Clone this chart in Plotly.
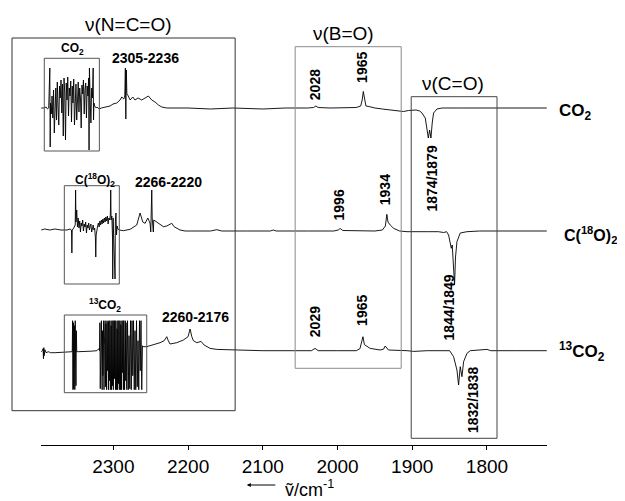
import plotly.graph_objects as go

# ---------------- data (wavenumber in cm-1, signal deviation from baseline, arb. units) ----------------
co2_pairs = [
    [2396.5, 0], [2393, 0], [2390, 1], [2388, -1], [2386.5, 0],
    [2385, 40], [2384.5, -39], [2384, 5], [2383, -6], [2382, 12], [2381, -10], [2380, 18], [2379, -25],
    [2378, 8], [2377, 20], [2376, -12], [2375, 26], [2374, 2], [2373, -17], [2372, 22], [2371, 10],
    [2370, 28], [2369, -5], [2368, 24], [2367, -28], [2366, 30], [2365, 15], [2364, -32], [2363, 25],
    [2362, 8], [2361, 31], [2360, -8], [2359, 20], [2358, 12], [2357, 27], [2356, -14], [2355, 22],
    [2354, 5], [2353, 29], [2352, -17], [2351, 18], [2350, 24], [2349, -12], [2348, 15], [2347, 26],
    [2346, -4], [2345, 20], [2344, 10], [2343, -20], [2342, 23], [2341, 14], [2340, 28], [2339, -6],
    [2338, 18], [2337, 25], [2336, -10], [2335, 22], [2334, 12], [2333, 30], [2332.5, -42], [2332, 40],
    [2331, 8], [2330, -15], [2329, 20], [2328, 10], [2327, 40], [2326.5, -12], [2326, 5], [2325, 2],
    [2323, 0], [2321.8, 1], [2319, -1], [2316, 0], [2310, 1], [2304.4, 2], [2300.4, 4], [2295.4, 5],
    [2291, 8], [2288.7, 11], [2286, 9], [2284.7, 12], [2283.9, 40], [2283.3, -11], [2282.6, 38],
    [2281.9, 14], [2280.7, 13], [2277.6, 8], [2274, 11], [2271, 8], [2266.9, 10], [2262, 8],
    [2257.5, 10], [2253.1, 12], [2248.6, 8], [2244.2, 6], [2239.7, 3], [2235.2, 1], [2228.5, 0],
    [2200, 0], [2170, -1], [2140, 0], [2100, -1], [2070, 0], [2040, 0], [2032, 0.5], [2029, 2],
    [2026, 0.5], [2010, 0], [1990, 0], [1975, 0.5], [1969, 2], [1967, 8], [1965.5, 16.5], [1964, 8],
    [1962, 2], [1958, 1.5], [1950, 0], [1940, -1], [1930, -2], [1920, -3], [1912, -3.5], [1905, -2.5],
    [1895, -2], [1890, -3], [1887, -5], [1882.6, -10], [1880.4, -20], [1878.5, -30], [1876.8, -22],
    [1875, -30], [1873.3, -15], [1871.5, -5], [1867, -1], [1860, 0], [1840, 0], [1810, 0], [1780, 0],
    [1750, 0], [1720, 0],
]

c18o2_pairs = [
    [2396.5, 0], [2392, 1], [2385, 0], [2378, 1], [2370, 0], [2362, 0], [2358, 1], [2356, 0],
    [2355.5, -23], [2355, 0], [2353, 2], [2351, 5], [2350.5, 40], [2350, 8], [2349, 20], [2348, 3],
    [2347, 12], [2346, 2], [2345, 9], [2344, -2], [2343, 7], [2342, 4], [2341, 10], [2340, -1],
    [2339, 6], [2338, 3], [2337, 8], [2336, -3], [2335, 5], [2334, 2], [2333, 7], [2332, 0],
    [2331, 4], [2330, 6], [2329, -2], [2328, 3], [2327, 5], [2326, 0], [2325, 2], [2324, -8],
    [2323.5, -27], [2323, -5], [2322, 3], [2321, 4], [2320, 7], [2319, 3], [2318, 9], [2317, 5],
    [2316, 10], [2315, 6], [2314, 11], [2313, 7], [2312, 12], [2311, 8], [2310, 13], [2309, 9],
    [2308, 14], [2307, 6], [2306, 12], [2305, 10], [2304, 15], [2303.5, 40], [2303, 10], [2302, 14],
    [2301, -10], [2300.8, -49], [2300.3, 12], [2299, -20], [2297.7, -49], [2297.3, 8], [2296.5, 17],
    [2295.8, -5], [2295, 4], [2294, 1], [2292, 0], [2286.6, -0.7], [2277.6, 0.7], [2268.7, 5],
    [2264.2, 17], [2260.6, 8], [2257.5, 6.7], [2253.9, 12], [2250.9, 7], [2249.9, -2], [2249.3, 10],
    [2248.6, 40], [2248.0, 12], [2247.2, -2], [2246.5, -2], [2245.9, 10], [2241.9, 8], [2237.5, 5],
    [2233, 3.3], [2228.5, 4], [2221.8, 6.7], [2218.7, 3.3], [2210.7, 0], [2204, -1], [2170, -1],
    [2161.5, 0.3], [2155, -1], [2120, -1], [2090, -1], [2086, 0], [2082, -1], [2040, -1], [2005, -1],
    [1999, 0], [1996.4, 1.5], [1993, -0.5], [1970, -1], [1950, -1], [1940, 0], [1936, 4],
    [1934, 15.7], [1932.5, 8], [1929.5, 5], [1925, 1.7], [1917, -1], [1907, -1.7], [1880, -1.7],
    [1865, -1.7], [1858, -2.5], [1854, -1.7], [1851.4, -5], [1849.1, -15], [1847.8, -18.3],
    [1846.5, -15], [1844.7, -36.7], [1843.4, -55], [1842.1, -27], [1840.2, -11.7], [1835.8, -3],
    [1826.8, -1.7], [1810, -1], [1780, -1], [1750, -1], [1720, -1],
]

c13o2_pairs = [
    [2396.5, -1], [2395, 0], [2394, 2], [2393.5, -8], [2393, 3], [2392.5, -5], [2391.5, 1],
    [2390, -2], [2387, -1], [2384, -2], [2378, -2], [2370, -1.5], [2362, -1], [2356, -1],
    [2355, -1], [2354.5, 30], [2354, -39], [2353.5, 28], [2353, -38], [2352, 25], [2351.5, -39],
    [2351, 30], [2350, -35], [2349.5, 20], [2349, -1], [2347, -1], [2340, -1], [2330, -0.5],
    [2322, 0], [2319.5, 2], [2318.5, 0],
    [2318, 28], [2317.5, -38], [2317, 25], [2316.5, -30], [2316, 30], [2315, -39], [2314.5, 20],
    [2314, -25], [2313, 30], [2312.5, -39], [2312, 5], [2311, 30], [2310.5, -36], [2310, 27],
    [2309, -39], [2308.5, 30], [2308, -20], [2307, 29], [2306.5, -39], [2306, 30], [2305, -30],
    [2304.5, 30], [2304, -39], [2303, 25], [2302.5, -39], [2302, 30], [2301, -35], [2300.5, 30],
    [2300, -39], [2299, 30], [2298.5, -28], [2298, 30], [2297, -39], [2296.5, 30], [2296, -39],
    [2295, 22], [2294.5, -39], [2294, 30], [2293, -33], [2292.5, 30], [2292, -39], [2291, 30],
    [2290.5, -39], [2290, 26], [2289, -39], [2288.5, 30], [2288, -22], [2287, 30], [2286.5, -39],
    [2286, 30], [2285, -39], [2284, 30], [2283.5, -30], [2283, 28], [2282, -39], [2281, 30],
    [2280, -39], [2279, 15], [2278, -38], [2277, 30], [2276, -39], [2275, 30], [2274, -25],
    [2273, 30], [2272, -39], [2271, 20], [2270, -39], [2269, 30], [2268, -36], [2267, 10],
    [2266, -39], [2265, 30], [2264, -20], [2263, 30], [2262, -39], [2261, 5], [2260, 4],
    [2255.3, 4], [2250.9, 5], [2245, 6], [2237.5, 8], [2232, 10], [2229.5, 13], [2228.5, 14],
    [2226.5, 10], [2224.1, 6.7], [2215.1, 8], [2206.3, 10.7], [2200, 14], [2197.3, 21.7],
    [2195, 14], [2192.9, 10], [2188.3, 8], [2185.5, 8.5], [2182.6, 9.3], [2178.5, 5.7],
    [2170.5, 2.3], [2161.5, 1.3], [2139, 0.7], [2100, 0], [2060, 0], [2035, 0], [2030, 2.3],
    [2026, 0], [2000, 0], [1975, 0], [1970, 2], [1968, 8], [1966, 14], [1964, 6], [1961.6, 4.7],
    [1956.3, 2.3], [1942.9, 0.7], [1938.5, 1.5], [1936.2, 4.7], [1933.5, 1.5], [1931.8, 0.7],
    [1907, 0], [1898, -0.7], [1880, 0], [1860, 0], [1850, 0], [1844.7, -6], [1840.2, -19.3],
    [1838, -34.3], [1835.8, -16], [1833.5, -26], [1831.3, -11], [1826.8, -2.7], [1822.4, 0],
    [1800, 1.3], [1795, 0], [1760, 0], [1720, 0],
]

# vertical offsets of the stacked spectra
trace_offsets = {"CO2": 337, "C18O2": 215, "13CO2": 94.3}

# axis
x_range = [2396.8, 1719.7]
y_range = [0, 437]
tick_values = [2300, 2200, 2100, 2000, 1900, 1800]
tick_labels = ["2300", "2200", "2100", "2000", "1900", "1800"]

# region boxes: (wn_left, wn_right, y_bottom, y_top, colour)
region_boxes = [
    (2435.6, 2137.0, 34.3, 407.0, "#333333"),
    (2056.7, 1914.8, 76.7, 398.3, "#8a8a8a"),
    (1901.4, 1786.6, 6.7, 348.3, "#444444"),
    (2392.4, 2318.7, 294.0, 386.7, "#555555"),
    (2365.6, 2292.0, 161.0, 259.3, "#555555"),
    (2365.6, 2255.3, 52.3, 130.0, "#555555"),
]
region_titles = [("ν(N=C=O)", 2280.3, 420), ("ν(B=O)", 1992.4, 412), ("ν(C=O)", 1845.1, 362)]
inset_labels = [("CO<sub>2</sub>", 2354.0, 396), ("C(<sup>18</sup>O)<sub>2</sub>", 2324.5, 265),
                ("<sup>13</sup>CO<sub>2</sub>", 2311.1, 140)]
band_labels = [("2305-2236", 2256.9, 386.7), ("2266-2220", 2226.7, 263), ("2260-2176", 2190.6, 128)]
peak_labels = [("2028", 2029.9, 360), ("1965", 1967.4, 378), ("1874/1879", 1873.6, 266.5),
               ("1996", 1997.4, 240), ("1934", 1936.2, 255), ("1844/1849", 1851.4, 137),
               ("2029", 2029.9, 123), ("1965", 1967.4, 135), ("1832/1838", 1818.7, 45)]
series_labels = [("CO<sub>2</sub>", 1706.3, 333.3, 17), ("C(<sup>18</sup>O)<sub>2</sub>", 1699.5, 210, 16),
                 ("<sup>13</sup>CO<sub>2</sub>", 1706.3, 93.3, 17)]
axis_title = ("ṽ/cm<sup>-1</sup>", 2073.0, -43)
axis_arrow = (2121.4, -40)

# ---------------- figure ----------------
FONT = "Liberation Sans, Arial, sans-serif"


def xp(wn):
    return (x_range[0] - wn) / (x_range[0] - x_range[1])


def yp(v):
    return (v - y_range[0]) / (y_range[1] - y_range[0])


fig = go.Figure()
for name, pairs in [("CO2", co2_pairs), ("C18O2", c18o2_pairs), ("13CO2", c13o2_pairs)]:
    fig.add_trace(go.Scatter(
        x=[p[0] for p in pairs],
        y=[p[1] + trace_offsets[name] for p in pairs],
        mode="lines", line=dict(color="black", width=0.9), name=name, showlegend=False,
        hoverinfo="skip", cliponaxis=False,
    ))

for (x0, x1, y0, y1, col) in region_boxes:
    fig.add_shape(type="rect", xref="paper", yref="paper",
                  x0=xp(x0), x1=xp(x1), y0=yp(y0), y1=yp(y1),
                  line=dict(color=col, width=1), fillcolor="rgba(0,0,0,0)", layer="above")

ann = []
for t, x, y in region_titles:
    ann.append(dict(text=t, x=xp(x), y=yp(y), font=dict(size=19, color="black", family=FONT)))
for t, x, y in inset_labels:
    ann.append(dict(text="<b>" + t + "</b>", x=xp(x), y=yp(y), font=dict(size=12, color="black", family=FONT)))
for t, x, y in band_labels:
    ann.append(dict(text="<b>" + t + "</b>", x=xp(x), y=yp(y), font=dict(size=14, color="black", family=FONT)))
for t, x, y in peak_labels:
    ann.append(dict(text="<b>" + t + "</b>", x=xp(x), y=yp(y), textangle=-90,
                    font=dict(size=14, color="black", family=FONT)))
for t, x, y, s in series_labels:
    ann.append(dict(text="<b>" + t + "</b>", x=xp(x), y=yp(y), xanchor="left",
                    font=dict(size=s, color="black", family=FONT)))
for a in ann:
    a.setdefault("xanchor", "center")
    a.update(xref="paper", yref="paper", yanchor="middle", showarrow=False)

# axis title with arrow
ann.append(dict(text=axis_title[0], xref="paper", yref="paper", x=xp(axis_title[1]), y=yp(axis_title[2]),
                xanchor="left", yanchor="middle", showarrow=False,
                font=dict(size=18, color="black", family=FONT)))
ann.append(dict(text="", xref="paper", yref="paper", x=xp(axis_arrow[0]), y=yp(axis_arrow[1]),
                showarrow=True, ax=30, ay=0, arrowhead=2, arrowsize=0.8, arrowwidth=1,
                arrowcolor="black"))

fig.update_layout(
    width=617, height=493,
    margin=dict(l=33, r=78, t=0, b=56),
    paper_bgcolor="white", plot_bgcolor="white",
    annotations=ann,
    xaxis=dict(range=x_range, tickvals=tick_values, ticktext=tick_labels,
               ticks="outside", ticklen=4, tickwidth=1, tickcolor="black",
               showline=True, linecolor="black", linewidth=1,
               showgrid=False, zeroline=False,
               tickfont=dict(size=19, color="black", family=FONT)),
    yaxis=dict(range=y_range, visible=False, showgrid=False, zeroline=False),
)

fig.write_html("out.html")
